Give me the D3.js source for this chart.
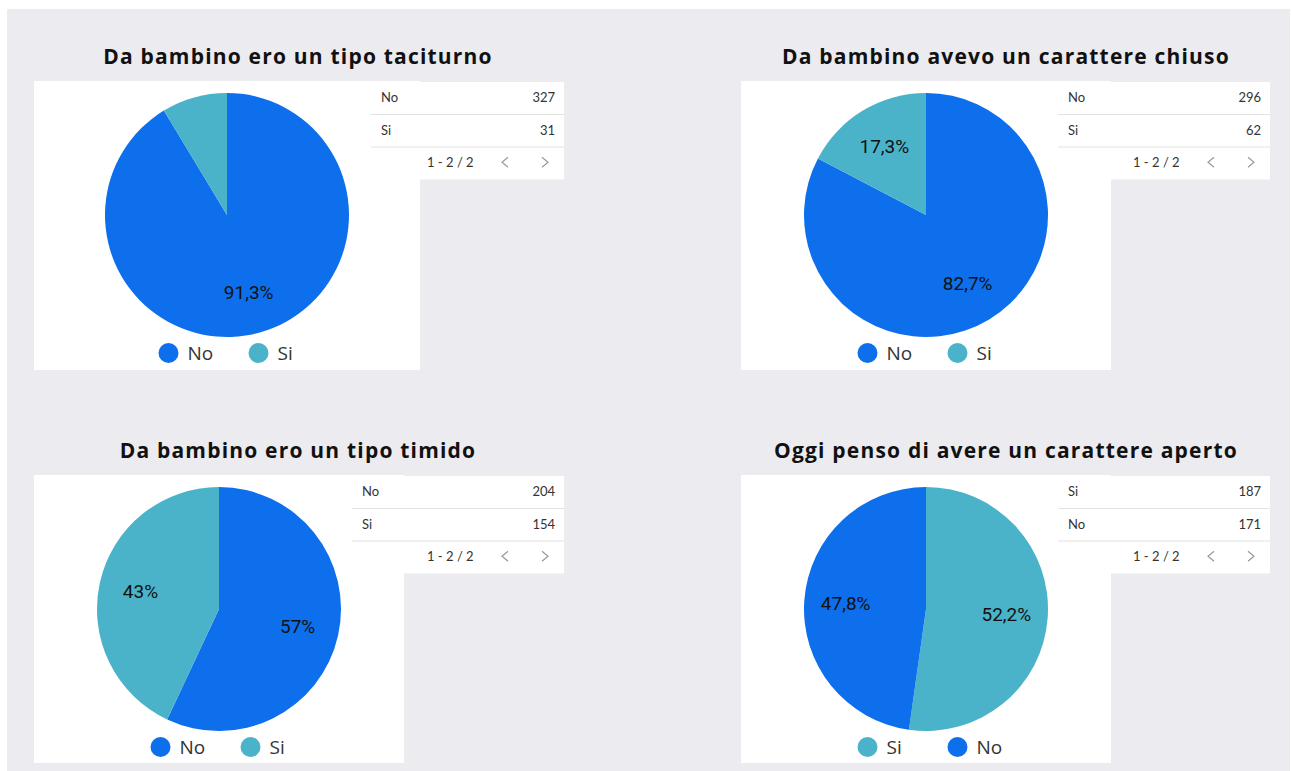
<!DOCTYPE html>
<html>
<head>
<meta charset="utf-8">
<script src="https://cdn.jsdelivr.net/npm/d3@7"></script>
<style>
  html, body { margin: 0; padding: 0; background: #fff; }
  svg { display: block; }
</style>
</head>
<body>
<div id="chart"></div>
<script>
// dati
var titles = [
  "Da bambino ero un tipo taciturno",
  "Da bambino avevo un carattere chiuso",
  "Da bambino ero un tipo timido",
  "Oggi penso di avere un carattere aperto"
];
var categories = [["No", "Si"], ["No", "Si"], ["No", "Si"], ["Si", "No"]];
var counts = [[327, 31], [296, 62], [204, 154], [187, 171]];
var pagerText = "1 - 2 / 2";

var width = 1292;
var height = 771;

var colorScale = d3.scaleOrdinal()
  .domain(["No", "Si"])
  .range(["#0d6fec", "#4bb3c9"]);

// posizione dei 4 pannelli
var panels = [
  { titleX: 298, titleY: 56, boxX: 34,  boxY: 81,  boxW: 386, boxH: 289, tabX: 371,  tabW: 193 },
  { titleX: 1006, titleY: 56, boxX: 741, boxY: 81,  boxW: 370, boxH: 289, tabX: 1058, tabW: 212 },
  { titleX: 298, titleY: 450, boxX: 34,  boxY: 475, boxW: 370, boxH: 288, tabX: 352,  tabW: 212 },
  { titleX: 1006, titleY: 450, boxX: 741, boxY: 475, boxW: 370, boxH: 288, tabX: 1058, tabW: 212 }
];

var svg = d3.select("#chart")
  .append("svg")
  .attr("width", width)
  .attr("height", height);

// sfondo grigio
svg.append("rect")
  .attr("x", 7)
  .attr("y", 9)
  .attr("width", width - 9)
  .attr("height", height - 9)
  .style("fill", "#ebebf0");

var radius = 122;

var pie = d3.pie()
  .sort(null)
  .value(function (d) { return d.value; });

var arc = d3.arc()
  .innerRadius(0)
  .outerRadius(radius);

var labelArc = d3.arc()
  .innerRadius(radius * 0.66)
  .outerRadius(radius * 0.66);

function fmtPct(v) {
  var s = (Math.round(v * 10) / 10).toFixed(1);
  if (s.slice(-2) === ".0") s = s.slice(0, -2);
  return s.replace(".", ",") + "%";
}

panels.forEach(function (p, i) {
  var data = categories[i].map(function (c, j) { return { key: c, value: counts[i][j] }; });
  var total = d3.sum(data, function (d) { return d.value; });

  // titolo
  svg.append("text")
    .attr("x", p.titleX)
    .attr("y", p.titleY)
    .attr("text-anchor", "middle")
    .attr("dominant-baseline", "central")
    .style("font-family", "'Open Sans', 'Noto Sans', sans-serif")
    .style("font-weight", "700")
    .style("font-size", "21px")
    .style("letter-spacing", "1.2px")
    .style("fill", "#111")
    .text(titles[i]);

  // box bianco del grafico
  svg.append("rect")
    .attr("x", p.boxX)
    .attr("y", p.boxY)
    .attr("width", p.boxW)
    .attr("height", p.boxH)
    .style("fill", "#fff");

  var g = svg.append("g")
    .attr("transform", "translate(" + (p.boxX + p.boxW / 2) + "," + (p.boxY + 134) + ")");

  var arcs = pie(data);

  g.selectAll("path")
    .data(arcs)
    .enter()
    .append("path")
    .attr("d", arc)
    .style("fill", function (d) { return colorScale(d.data.key); });

  g.selectAll("text")
    .data(arcs.filter(function (d) { return d.data.value / total >= 0.1; }))
    .enter()
    .append("text")
    .attr("transform", function (d) { return "translate(" + labelArc.centroid(d) + ")"; })
    .attr("text-anchor", "middle")
    .attr("dominant-baseline", "central")
    .style("font-family", "Roboto, sans-serif")
    .style("font-size", "19px")
    .style("fill", "#111")
    .text(function (d) { return fmtPct(d.data.value / total * 100); });

  // legenda
  var legend = g.append("g")
    .attr("transform", "translate(0," + (radius + 16) + ")");
  var itemW = [90, 47];
  var legendW = itemW[0] + itemW[1];
  var lx = -legendW / 2;
  categories[i].forEach(function (c, j) {
    var item = legend.append("g").attr("transform", "translate(" + lx + ",0)");
    item.append("circle")
      .attr("cx", 10)
      .attr("cy", 0)
      .attr("r", 10)
      .style("fill", colorScale(c));
    item.append("text")
      .attr("x", 29)
      .attr("y", 0)
      .attr("dominant-baseline", "central")
      .style("font-family", "'Open Sans', sans-serif")
      .style("font-size", "19px")
      .style("fill", "#333")
      .text(c);
    lx += itemW[j];
  });

  // tabella
  var rowH = 32.5;
  var tab = svg.append("g")
    .attr("transform", "translate(" + p.tabX + "," + (p.boxY + 1) + ")");
  tab.append("rect")
    .attr("width", p.tabW)
    .attr("height", rowH * 3)
    .style("fill", "#fff");

  var rows = tab.selectAll("g.row")
    .data(data)
    .enter()
    .append("g")
    .attr("class", "row")
    .attr("transform", function (d, k) { return "translate(0," + (k * rowH) + ")"; });

  rows.append("line")
    .attr("x1", 0)
    .attr("x2", p.tabW)
    .attr("y1", rowH)
    .attr("y2", rowH)
    .style("stroke", "#e2e2e2")
    .style("stroke-width", 1);

  rows.append("text")
    .attr("x", 10)
    .attr("y", rowH / 2 - 1)
    .attr("dominant-baseline", "central")
    .style("font-family", "Lato, sans-serif")
    .style("font-size", "13px")
    .style("fill", "#333")
    .text(function (d) { return d.key; });

  rows.append("text")
    .attr("x", p.tabW - 9)
    .attr("y", rowH / 2 - 1)
    .attr("text-anchor", "end")
    .attr("dominant-baseline", "central")
    .style("font-family", "Lato, sans-serif")
    .style("font-size", "13px")
    .style("fill", "#333")
    .text(function (d) { return d.value; });

  var pager = tab.append("g")
    .attr("transform", "translate(0," + (rowH * 2.5 - 1) + ")");
  pager.append("text")
    .attr("x", p.tabW - 137)
    .attr("dominant-baseline", "central")
    .style("font-family", "Lato, sans-serif")
    .style("font-size", "13px")
    .style("fill", "#333")
    .text(pagerText);
  pager.append("path")
    .attr("d", "M" + (p.tabW - 56) + ",-5 L" + (p.tabW - 62) + ",0 L" + (p.tabW - 56) + ",5")
    .style("fill", "none")
    .style("stroke", "#999")
    .style("stroke-width", 1.2);
  pager.append("path")
    .attr("d", "M" + (p.tabW - 22) + ",-5 L" + (p.tabW - 16) + ",0 L" + (p.tabW - 22) + ",5")
    .style("fill", "none")
    .style("stroke", "#999")
    .style("stroke-width", 1.2);
});
</script>
</body>
</html>
